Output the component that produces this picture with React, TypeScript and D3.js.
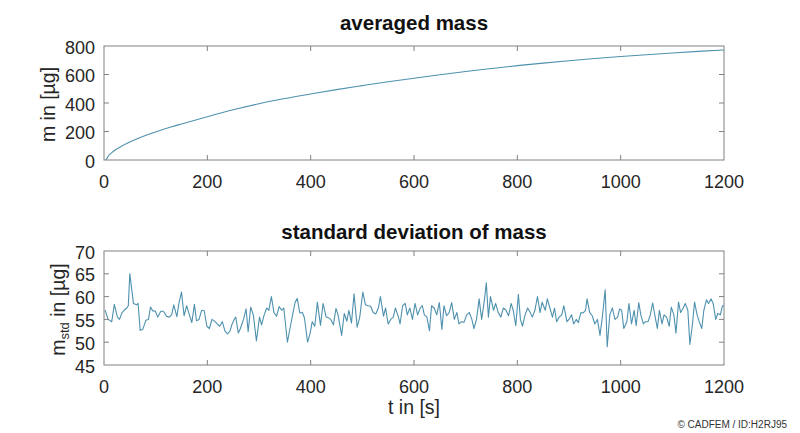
import React from 'react';
import * as d3 from 'd3';

const timeTicks = [0, 200, 400, 600, 800, 1000, 1200];
const massTicks = [0, 200, 400, 600, 800];
const stdTicks = [45, 50, 55, 60, 65, 70];

const massTimes = [4, 7, 10, 15, 25, 35, 50, 75, 100, 131, 150, 200, 250, 300, 350, 400, 450, 500, 550, 600, 650, 700, 750, 800, 850, 900, 950, 1000, 1050, 1100, 1150, 1200];
const massValues = [0, 20, 35, 52, 78, 99, 126, 165, 197, 233, 253, 304, 352, 395, 431, 463, 494, 522, 549, 574, 598, 621, 642, 662, 680, 697, 712, 726, 739, 751, 762, 772];

const stdTimes = [
  2, 8, 15, 20, 26, 30, 35, 39, 44, 47, 50, 57, 63, 66, 70, 75, 81, 86, 90, 95,
  99, 104, 110, 115, 121, 126, 131, 135, 141, 145, 150, 155, 160, 164, 170, 175, 179, 184, 189, 194,
  199, 204, 209, 215, 219, 224, 229, 234, 239, 244, 248, 253, 255, 260, 264, 270, 275, 279, 284, 289,
  295, 301, 305, 310, 315, 319, 324, 329, 334, 339, 344, 348, 355, 360, 365, 370, 374, 379, 384, 388,
  394, 399, 403, 408, 413, 419, 424, 430, 434, 439, 444, 449, 453, 460, 465, 470, 474, 479, 484, 490,
  495, 501, 506, 511, 516, 521, 526, 531, 535, 541, 545, 550, 555, 560, 564, 570,
  573, 578, 583, 587, 592, 597, 602, 607, 612, 616, 620, 625, 630, 634, 639, 644, 649, 654, 658, 663,
  668, 673, 678, 683, 687, 692, 697, 702, 707, 712, 716, 721, 726, 731, 736, 740, 744, 748, 754, 758,
  763, 768, 773, 778, 783, 788, 792, 797, 802, 806, 810, 815, 820, 825, 829, 834, 839, 844, 848, 854,
  858, 863, 868, 872, 876, 881, 886, 890, 896, 900, 905, 909, 914, 918, 923, 927, 932, 935, 940, 945,
  950, 955, 960, 965, 970, 974, 979, 984, 989, 994, 998, 1002, 1006, 1012, 1016, 1021, 1026, 1030, 1035, 1039,
  1044, 1048, 1053, 1057, 1062, 1066, 1071, 1075, 1080, 1084, 1089, 1094, 1098, 1103, 1107, 1112, 1116, 1121, 1125, 1130,
  1134, 1139, 1143, 1148, 1152, 1157, 1161, 1166, 1170, 1175, 1179, 1184, 1188, 1193, 1197, 1200
];
const stdValues = [
  57.1, 55, 54.5, 58.3, 55.5, 55, 56.5, 57, 57.5, 58, 65, 58.5, 58.2, 58.5, 52.6, 52.8, 54.8, 55, 57.7, 56.8,
  56.9, 55.5, 56.8, 56.8, 55.7, 55.5, 56, 58.2, 55.6, 58.5, 61, 55.8, 58, 56.5, 54.3, 58.3, 54.7, 55, 57, 56.9,
  53.5, 53, 55, 54.5, 54, 53.5, 54.5, 52.5, 51.8, 52.5, 54, 55.2, 55.5, 52, 53, 55, 57.3, 52.3, 57.7, 56,
  50.3, 55.5, 53.8, 56, 57.5, 57, 60, 56.5, 55.7, 57.8, 57, 57.5, 50, 53, 56, 58.8, 59.6, 56.4, 56.5, 55.3,
  50, 52, 54.5, 53.5, 58.8, 53.7, 58.5, 55.5, 55.4, 55, 53.8, 57.4, 56, 51.5, 56.3, 54.6, 57, 54.2, 60.6, 53.3,
  55.5, 61, 58.2, 58, 57.9, 56.5, 56.2, 57.5, 60, 55.7, 57.5, 54, 55, 55.5, 57.5, 55.5,
  54, 58, 58.5, 56, 57.5, 55, 58.5, 56, 57.5, 58, 56, 55.5, 52.5, 58, 57.5, 56, 58.7, 52.8, 58, 55.8,
  56.5, 58.7, 55, 56.5, 54, 54.5, 54.4, 56, 56.5, 55, 53, 55, 59.5, 55, 59, 63, 55.5, 60, 57, 58.5,
  56.5, 55.5, 57.5, 57, 55.8, 58.5, 57, 53.6, 60.5, 55, 53.5, 56, 57.5, 56.5, 55.5, 57, 60, 56.5, 58.8, 57,
  59.5, 57.5, 55.5, 57.5, 54.5, 55.5, 56, 58, 54.5, 55, 56, 54, 55, 54.3, 56.5, 56.4, 57, 59.5, 56.5, 55.8,
  54, 55, 51.5, 56, 61.5, 49, 56, 57.5, 55, 55.5, 57.3, 57, 53, 54.5, 58.5, 54, 57, 53.6, 58.7, 56,
  54, 54.5, 54.5, 55.8, 58.6, 56, 53, 57, 54, 56, 55.5, 53.5, 57.7, 56, 52, 58.8, 56.5, 57.5, 58.5, 57,
  49.5, 54, 58.8, 56, 54.5, 53, 57, 59.3, 58.5, 59.5, 58.5, 55, 56.3, 56, 58, 58
];

const FONT = '"Liberation Sans", Arial, Helvetica, sans-serif';
const LINE = '#4e91ae';
const AXIS = '#808080';
const TEXT = '#262626';

type PanelProps = {
  x: d3.ScaleLinear<number, number>;
  y: d3.ScaleLinear<number, number>;
  yTicks: number[];
  times: number[];
  values: number[];
  title: string;
  titleY: number;
  curve: d3.CurveFactory;
};

function Panel({ x, y, yTicks, times, values, title, titleY, curve }: PanelProps) {
  const [x0, x1] = x.range();
  const [yb, yt] = y.range();
  const tl = 5;
  const line = d3
    .line<number>()
    .x((_, i) => x(times[i]))
    .y((d) => y(d))
    .curve(curve);
  return (
    <g>
      <text x={(x0 + x1) / 2} y={titleY} textAnchor="middle" fontFamily={FONT} fontWeight="bold" fontSize={20.5} fill="#111">
        {title}
      </text>
      <path d={line(values) || ''} fill="none" stroke={LINE} strokeWidth={1.1} strokeLinejoin="round" />
      <rect x={x0} y={yt} width={x1 - x0} height={yb - yt} fill="none" stroke={AXIS} strokeWidth={1} />
      {timeTicks.map((t) => (
        <g key={'xt' + t}>
          {t > 0 && t < 1200 && (
            <>
              <line x1={x(t)} x2={x(t)} y1={yb} y2={yb - tl} stroke={AXIS} />
              <line x1={x(t)} x2={x(t)} y1={yt} y2={yt + tl} stroke={AXIS} />
            </>
          )}
          <text x={x(t)} y={yb + 28} textAnchor="middle" fontFamily={FONT} fontSize={18} fill={TEXT}>
            {t}
          </text>
        </g>
      ))}
      {yTicks.map((v, i) => (
        <g key={'yt' + v}>
          {i > 0 && i < yTicks.length - 1 && (
            <>
              <line x1={x0} x2={x0 + tl} y1={y(v)} y2={y(v)} stroke={AXIS} />
              <line x1={x1} x2={x1 - tl} y1={y(v)} y2={y(v)} stroke={AXIS} />
            </>
          )}
          <text x={95} y={y(v) + 7.5} textAnchor="end" fontFamily={FONT} fontSize={18} fill={TEXT}>
            {v}
          </text>
        </g>
      ))}
    </g>
  );
}

export default function App() {
  const W = 800;
  const H = 433;
  const x = d3.scaleLinear().domain([0, 1200]).range([104, 724]);
  const yTop = d3.scaleLinear().domain([0, 800]).range([160, 46]);
  const yBot = d3.scaleLinear().domain([45, 70]).range([365, 251]);

  return (
    <svg
      width={W}
      height={H}
      viewBox={`0 0 ${W} ${H}`}
      style={{ position: 'absolute', left: 0, top: 0, background: '#fff' }}
    >
      <rect x={0} y={0} width={W} height={H} fill="#fff" />
      <Panel
        x={x}
        y={yTop}
        yTicks={massTicks}
        times={massTimes}
        values={massValues}
        title="averaged mass"
        titleY={29.5}
        curve={d3.curveMonotoneX}
      />
      <Panel
        x={x}
        y={yBot}
        yTicks={stdTicks}
        times={stdTimes}
        values={stdValues}
        title="standard deviation of mass"
        titleY={239}
        curve={d3.curveLinear}
      />
      <text transform="translate(55,104.5) rotate(-90)" textAnchor="middle" fontFamily={FONT} fontSize={19.5} fill={TEXT}>
        m in [µg]
      </text>
      <text transform="translate(65,309.5) rotate(-90)" textAnchor="middle" fontFamily={FONT} fontSize={19.5} fill={TEXT}>
        m<tspan fontSize={13} dy={4}>std</tspan>
        <tspan dy={-4}> in [µg]</tspan>
      </text>
      <text x={414} y={414} textAnchor="middle" fontFamily={FONT} fontSize={19.5} fill={TEXT}>
        t in [s]
      </text>
      <text x={787} y={428} textAnchor="end" fontFamily={FONT} fontSize={10} fill="#333">
        © CADFEM / ID:H2RJ95
      </text>
    </svg>
  );
}
